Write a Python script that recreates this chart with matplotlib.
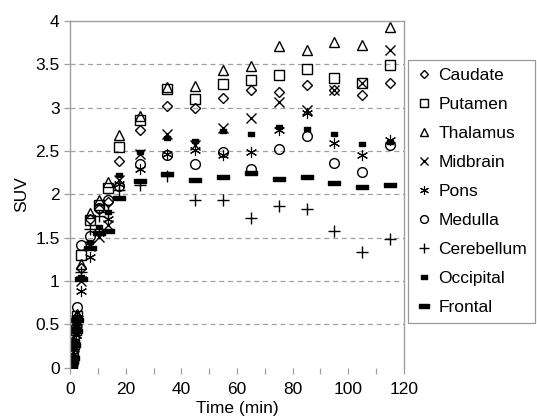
import numpy as np
import matplotlib.pyplot as plt
from matplotlib.ticker import MultipleLocator

plt.rcParams['font.family'] = ['Liberation Sans', 'DejaVu Sans']

# frame mid-times (min)
time = [0.25, 0.5, 0.75, 1.0, 1.5, 2.0, 2.5, 4, 7, 10.5, 13.5, 17.5,
        25, 35, 45, 55, 65, 75, 85, 95, 105, 115]

caudate = [0.02, 0.05, 0.08, 0.12, 0.28, 0.45, 0.58, 1.15, 1.72, 1.83, 1.91, 2.38,
           2.74, 3.02, 3.00, 3.11, 3.20, 3.18, 3.26, 3.20, 3.15, 3.29]
putamen = [0.02, 0.04, 0.07, 0.11, 0.27, 0.44, 0.60, 1.30, 1.70, 1.88, 2.07, 2.55,
           2.86, 3.22, 3.10, 3.27, 3.32, 3.38, 3.45, 3.34, 3.28, 3.49]
thalamus = [0.03, 0.06, 0.09, 0.13, 0.30, 0.48, 0.62, 1.20, 1.78, 1.93, 2.14, 2.69,
            2.90, 3.24, 3.25, 3.43, 3.48, 3.71, 3.66, 3.76, 3.72, 3.93]
midbrain = [0.01, 0.04, 0.07, 0.10, 0.25, 0.40, 0.55, 1.00, 1.40, 1.51, 1.65, 2.16,
            2.46, 2.70, 2.57, 2.76, 2.88, 3.06, 2.97, 3.20, 3.28, 3.66]
pons = [0.01, 0.03, 0.06, 0.09, 0.22, 0.38, 0.52, 0.89, 1.28, 1.55, 1.72, 2.12,
        2.29, 2.46, 2.51, 2.45, 2.49, 2.74, 2.94, 2.59, 2.45, 2.63]
medulla = [0.03, 0.07, 0.10, 0.15, 0.35, 0.55, 0.70, 1.42, 1.52, 1.84, 1.93, 2.10,
           2.35, 2.45, 2.35, 2.49, 2.29, 2.52, 2.67, 2.36, 2.26, 2.57]
cerebellum = [0.02, 0.05, 0.09, 0.13, 0.30, 0.47, 0.60, 1.10, 1.60, 1.75, 1.80, 2.05,
              2.11, 2.21, 1.93, 1.93, 1.73, 1.87, 1.83, 1.58, 1.33, 1.48]
occipital = [0.02, 0.05, 0.08, 0.12, 0.28, 0.46, 0.58, 1.05, 1.45, 1.62, 1.80, 2.22,
             2.49, 2.65, 2.62, 2.73, 2.70, 2.78, 2.75, 2.70, 2.58, 2.60]
frontal = [0.02, 0.04, 0.07, 0.11, 0.26, 0.42, 0.55, 1.02, 1.38, 1.55, 1.58, 1.96,
           2.15, 2.23, 2.16, 2.20, 2.25, 2.18, 2.20, 2.13, 2.09, 2.11]

labels = ['Caudate', 'Putamen', 'Thalamus', 'Midbrain', 'Pons', 'Medulla',
          'Cerebellum', 'Occipital', 'Frontal']
series = [caudate, putamen, thalamus, midbrain, pons, medulla,
          cerebellum, occipital, frontal]

dash_big = [(-1, -0.32), (1, -0.32), (1, 0.32), (-1, 0.32), (-1, -0.32)]
dash_small = [(-1, -0.6), (1, -0.6), (1, 0.6), (-1, 0.6), (-1, -0.6)]

# marker, size, edge width, filled
styles = [('D', 5.5, 1.0, False), ('s', 6.5, 1.0, False), ('^', 7.5, 1.0, False),
          ('x', 7.0, 1.0, True), ((6, 2, 0), 8.0, 0.8, True), ('o', 7.0, 1.0, False),
          ('+', 8.5, 1.0, True), (dash_small, 4.8, 1.0, True), (dash_big, 8.5, 1.0, True)]

fig = plt.figure(figsize=(5.37, 4.17), dpi=100)
ax = fig.add_axes([0.1304, 0.1182, 0.6219, 0.8314])

for lab, vals, (m, ms, mew, filled) in zip(labels, series, styles):
    ax.plot(time, vals, linestyle='none', marker=m, markersize=ms,
            markeredgecolor='black', markeredgewidth=mew,
            markerfacecolor='black' if filled else 'none', label=lab)

ax.set_xlim(0, 120)
ax.set_ylim(0, 4)
ax.xaxis.set_major_locator(MultipleLocator(20))
ax.xaxis.set_minor_locator(MultipleLocator(10))
ax.set_yticks(np.arange(0, 4.01, 0.5))
ax.set_yticklabels(['0', '0.5', '1', '1.5', '2', '2.5', '3', '3.5', '4'])

for y in np.arange(0.5, 4.0, 0.5):
    ax.axhline(y, color='#a0a0a0', linestyle=(0, (4, 3)), linewidth=0.9, zorder=0)

for s in ['left', 'top', 'right']:
    ax.spines[s].set_color('#a0a0a0')
    ax.spines[s].set_linewidth(1.0)
ax.spines['bottom'].set_visible(False)

ax.tick_params(axis='both', which='both', direction='out', color='#a0a0a0',
               labelsize=12.5, length=4, width=0.9)
ax.tick_params(axis='y', which='both', right=False)
ax.tick_params(axis='x', which='both', top=False, pad=6)

ax.set_xlabel('Time (min)', fontsize=12.5, labelpad=3)
ax.set_ylabel('SUV', fontsize=12.5, labelpad=4)

leg = fig.legend(loc='upper left', bbox_to_anchor=(0.760, 0.857), fontsize=12.5,
                 frameon=True, fancybox=False, edgecolor='#808080',
                 handlelength=0.9, handletextpad=0.4, labelspacing=0.80,
                 borderpad=0.45, borderaxespad=0, markerscale=0.8)
leg.get_frame().set_linewidth(0.9)

fig.savefig('out.png', dpi=100)
